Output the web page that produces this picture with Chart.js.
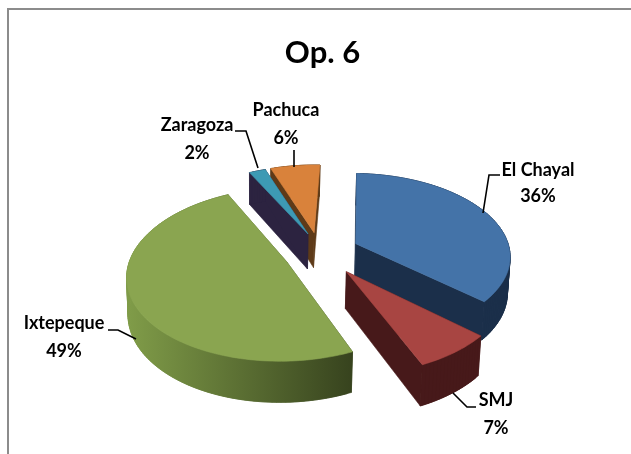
<!DOCTYPE html>
<html><head><meta charset="utf-8">
<style>html,body{margin:0;background:#fff}canvas{display:block}</style>
<script src="https://cdn.jsdelivr.net/npm/chart.js@4"></script></head><body>
<canvas id="c" width="631" height="454"></canvas>
<script>
const categories=['El Chayal','SMJ','Ixtepeque','Zaragoza','Pachuca'];
const shares=[36,7,49,2,6];
const titleText='Op. 6';
const topColors=['#4473a8','#a84542','#8aa550','#3d9ab4','#d9823b'];
const wallColors=['#1b2f4a','#47191a','#5f7534','#2c2340','#5e3a18'];
// Pie-plane camera: projects (x, y, depth) of the unit pie onto the canvas.
const camera=[161.450,-36.970,2.727,318.807,-2.803,47.832,39.816,265.814,0.01028,-0.14351,0.01076];
const explode=[[0.25663,-0.25128],[0.16814,0.07892],[-0.200,-0.058],[-0.05005,-0.39368],[-0.00876,-0.40876]];
const pieRotation=5.478;
const paintOrder=[4,3,0,2,1];
const labelBoxes=[[538,170,196],[496,400,428],[64,323,351],[197,125,153],[286,110,138]];
const leaders=[[[500,175],[489,175],[483,213]],[[453,393],[467,407],[476,407]],[[108,330],[118,330],[136,339]],[[235,131],[246,131],[258,168]],[[294,150],[294,167]]];

function proj(X,Y,Z){const p=camera,w=p[8]*X+p[9]*Y+p[10]*Z+1;return [(p[0]*X+p[1]*Y+p[2]*Z+p[3])/w,(p[4]*X+p[5]*Y+p[6]*Z+p[7])/w];}
const pie3d={id:'pie3d',beforeDatasetsDraw(chart){
  const ctx=chart.ctx,meta=chart.getDatasetMeta(0);
  ctx.save();
  ctx.strokeStyle='#8c8c8c';ctx.lineWidth=2;ctx.beginPath();ctx.moveTo(631,9);ctx.lineTo(8,9);ctx.lineTo(8,454);ctx.stroke();
  const poly=(pts,f)=>{ctx.beginPath();pts.forEach((q,n)=>n?ctx.lineTo(q[0],q[1]):ctx.moveTo(q[0],q[1]));ctx.closePath();ctx.fillStyle=f;ctx.strokeStyle=f;ctx.lineWidth=.6;ctx.fill();ctx.stroke();};
  for(const i of paintOrder){
    const el=meta.data[i],a0=el.startAngle,a1=el.endAngle,[ox,oy]=explode[i];
    const P=(a,z)=>proj(Math.cos(a)+ox,Math.sin(a)+oy,z),C=z=>proj(ox,oy,z);
    let f=wallColors[i];
    if(i===2){f=ctx.createLinearGradient(130,0,352,0);f.addColorStop(0,'#7f9b48');f.addColorStop(1,'#37431e');}
    poly([C(0),P(a0,0),P(a0,1),C(1)],f);
    poly([C(0),P(a1,0),P(a1,1),C(1)],f);
    const N=Math.max(6,Math.round((a1-a0)*40));
    for(let n=0;n<N;n++){const u=a0+(a1-a0)*n/N,v=a0+(a1-a0)*Math.min(n+2,N)/N;poly([P(u,0),P(v,0),P(v,1),P(u,1)],f);}
    const t=[C(0)];for(let n=0;n<=N;n++)t.push(P(a0+(a1-a0)*n/N,0));
    poly(t,topColors[i]);
  }
  ctx.strokeStyle='#000';ctx.lineWidth=1.6;
  leaders.forEach(l=>{ctx.beginPath();l.forEach((q,n)=>n?ctx.lineTo(q[0],q[1]):ctx.moveTo(q[0],q[1]));ctx.stroke();});
  ctx.fillStyle='#000';ctx.textAlign='center';ctx.textBaseline='middle';ctx.font='bold 18px Lato';
  categories.forEach((c,i)=>{const b=labelBoxes[i];ctx.fillText(c,b[0],b[1]);ctx.fillText(shares[i]+'%',b[0],b[2]);});
  ctx.restore();
  return false;
}};
new Chart(document.getElementById('c'),{type:'pie',
  data:{labels:categories,datasets:[{data:shares,backgroundColor:topColors}]},
  options:{rotation:pieRotation,responsive:false,animation:false,layout:{padding:{left:14}},
    plugins:{legend:{display:false},tooltip:{enabled:false},
      title:{display:true,text:titleText,color:'#000',font:{family:'Lato',size:31,weight:'bold'},padding:{top:34,bottom:0}}}},
  plugins:[pie3d]});
</script></body></html>
